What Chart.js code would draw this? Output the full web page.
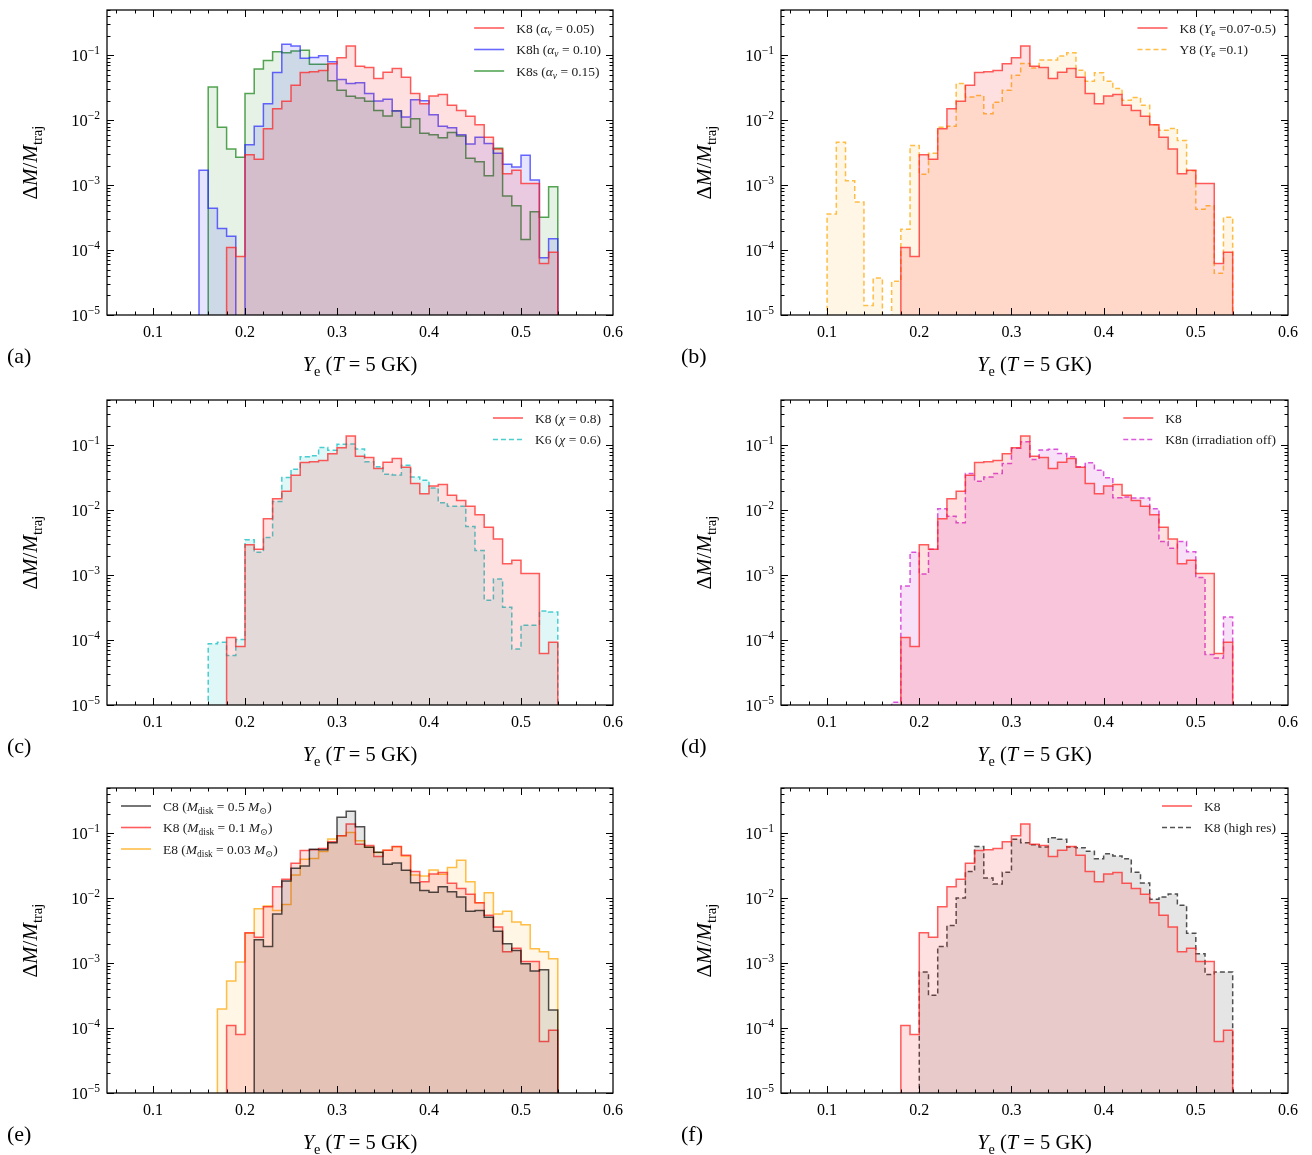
<!DOCTYPE html>
<html>
<head>
<meta charset="utf-8">
<script src="https://cdn.jsdelivr.net/npm/chart.js@4.4.1/dist/chart.umd.min.js"></script>
<style>
  html, body { margin: 0; padding: 0; background: #fff; overflow: hidden; }
  #wrap { position: relative; width: 1312px; height: 1155px; overflow: hidden; }
  #wrap canvas { position: absolute; }
</style>
</head>
<body>
<div id="wrap"></div>
<script>
// bin width of all histograms (in Ye)
const BIN = 0.01;
const FLOOR = 1e-9; // stands in for empty bins on the log axis

const xTicks = [0.1, 0.2, 0.3, 0.4, 0.5, 0.6];
const xTickLabels = ['0.1', '0.2', '0.3', '0.4', '0.5', '0.6'];
const yTicks = [1e-5, 1e-4, 1e-3, 1e-2, 1e-1];
const yTickExps = ['\u22125', '\u22124', '\u22123', '\u22122', '\u22121'];

// each series: first bin edge + dM/M per bin
const k8Start = 0.18;
const k8 = [1.1e-4, 8e-5, 2.95e-3, 2.5e-3, 7.4e-3, 0.0151, 0.0196, 0.0346, 0.0545, 0.056,
  0.0586, 0.0743, 0.092, 0.14, 0.068, 0.065, 0.044, 0.055, 0.063, 0.046,
  0.0258, 0.018, 0.0237, 0.025, 0.017, 0.0142, 0.0115, 0.0085, 0.0055, 0.0036,
  1.5e-3, 1.7e-3, 1.06e-3, 1.06e-3, 6.2e-5, 9.3e-5];

const k8hStart = 0.15;
const k8h = [1.7e-3, 4.4e-4, 2.16e-4, 1.64e-4, 0, 4.2e-3, 8.1e-3, 0.018, 0.0546, 0.148,
  0.14, 0.09, 0.093, 0.099, 0.080, 0.0425, 0.0368, 0.038, 0.0258, 0.0198,
  0.021, 0.0139, 0.0112, 0.0208, 0.020, 0.0122, 0.0081, 0.0077, 0.006, 0.0043,
  0.0055, 0.0044, 0.0031, 0.0021, 0.0019, 0.0029, 0.0012, 7.6e-5, 1.49e-4];

const k8sStart = 0.16;
const k8s = [0.0327, 7.8e-3, 3.6e-3, 2.7e-3, 0.0258, 0.0614, 0.083, 0.114, 0.11, 0.117,
  0.12, 0.073, 0.073, 0.0406, 0.029, 0.0234, 0.022, 0.0196, 0.0142, 0.0116,
  0.014, 0.0078, 0.0106, 0.0063, 0.006, 0.0054, 0.0065, 0.0057, 0.0026, 0.0023,
  0.0014, 0.0037, 6.8e-4, 4.8e-4, 1.46e-4, 3.9e-4, 3.2e-4, 9.5e-4];

const y8Start = 0.10;
const y8 = [3.6e-4, 4.6e-3, 1.17e-3, 5.5e-4, 1.4e-5, 3.7e-5, 0, 3.3e-5, 2.1e-4, 4.1e-3,
  1.48e-3, 3.1e-3, 7.8e-3, 8.1e-3, 0.0368, 0.0229, 0.024, 0.0126, 0.019, 0.029,
  0.0496, 0.075, 0.064, 0.0847, 0.085, 0.0977, 0.11, 0.059, 0.040, 0.054,
  0.040, 0.0308, 0.0203, 0.0224, 0.017, 0.0085, 0.007, 0.0075, 0.0049, 0.00167,
  4.25e-4, 4.8e-4, 4.4e-5, 3.2e-4];

const k6Start = 0.16;
const k6 = [8.8e-5, 9.3e-5, 5.8e-5, 1.02e-4, 3.5e-3, 2.25e-3, 3.8e-3, 0.0137, 0.0319, 0.043,
  0.067, 0.069, 0.093, 0.084, 0.104, 0.105, 0.088, 0.056, 0.047, 0.036,
  0.035, 0.0496, 0.0327, 0.029, 0.022, 0.0131, 0.0115, 0.0115, 0.0056, 0.0024,
  4.1e-4, 8.7e-4, 3.2e-4, 7.3e-5, 1.7e-4, 1.7e-4, 2.8e-4, 2.7e-4];

const k8nStart = 0.17;
const k8n = [1.1e-5, 6.8e-4, 2.25e-3, 1.04e-3, 2.5e-3, 0.0106, 8.1e-3, 6.4e-3, 0.0368, 0.028,
  0.0327, 0.0368, 0.0526, 0.09, 0.114, 0.0607, 0.0847, 0.087, 0.075, 0.067,
  0.047, 0.054, 0.0415, 0.0316, 0.0156, 0.016, 0.0155, 0.0155, 0.0106, 3.3e-3,
  2.6e-3, 3.3e-3, 2.3e-3, 9.2e-4, 6.0e-5, 5.3e-5, 2.26e-4];

const c8Start = 0.21;
const c8 = [2.3e-3, 1.8e-3, 5.75e-3, 0.0184, 0.029, 0.0315, 0.057, 0.056, 0.072, 0.177,
  0.219, 0.126, 0.061, 0.051, 0.0334, 0.035, 0.027, 0.0174, 0.0132, 0.0124,
  0.015, 0.0126, 0.0105, 0.0063, 0.0065, 0.0051, 0.0031, 0.002, 0.00157, 9.8e-4,
  7.6e-4, 7.9e-4, 1.9e-4];

const e8Start = 0.17;
const e8 = [1.96e-4, 5.3e-4, 1.04e-3, 2.9e-3, 6.9e-3, 7.6e-3, 6.5e-3, 8.0e-3, 0.0229, 0.040,
  0.041, 0.0526, 0.0817, 0.092, 0.1035, 0.077, 0.061, 0.0507, 0.055, 0.062,
  0.045, 0.0229, 0.022, 0.0273, 0.0234, 0.0297, 0.0386, 0.018, 0.0085, 0.0122,
  0.00575, 0.0063, 0.0043, 0.0039, 0.00167, 0.0015, 0.00117];

const k8hrStart = 0.20;
const k8hr = [7.3e-4, 3.2e-4, 1.8e-3, 3.8e-3, 0.0101, 0.0258, 0.063, 0.0206, 0.0166, 0.0251,
  0.081, 0.0718, 0.067, 0.0614, 0.0857, 0.081, 0.0614, 0.060, 0.0532, 0.0406,
  0.0484, 0.045, 0.0406, 0.0251, 0.0172, 0.0097, 0.0105, 0.0116, 0.0078, 0.0029,
  0.0014, 6.7e-4, 7.3e-4, 7.3e-4];

const FONT = '"Liberation Serif", "DejaVu Serif", serif';

// colours
const RED = { line: 'rgba(255,30,30,0.72)', fill: 'rgba(255,0,0,0.12)' };
const BLUE = { line: 'rgba(40,40,255,0.7)', fill: 'rgba(0,0,255,0.1)' };
const GREEN = { line: 'rgba(20,130,20,0.72)', fill: 'rgba(0,128,0,0.1)' };
const ORANGE = { line: 'rgba(255,165,0,0.72)', fill: 'rgba(255,165,0,0.1)' };
const CYAN = { line: 'rgba(0,185,190,0.7)', fill: 'rgba(0,190,190,0.12)' };
const MAGENTA = { line: 'rgba(200,0,200,0.65)', fill: 'rgba(200,0,200,0.12)' };
const BLACK = { line: 'rgba(0,0,0,0.68)', fill: 'rgba(0,0,0,0.1)' };
const DASH = [5, 3];

// rich-text helpers for math labels
const K8lab = [{ t: 'K8' }];
function alphaLab(name, v) {
  return [{ t: name + ' (' }, { t: '\u03b1', it: 1 }, { t: '\u03bd', it: 1, sub: 1 }, { t: ' = ' + v + ')' }];
}
function yeLab(name, v) {
  return [{ t: name + ' (' }, { t: 'Y', it: 1 }, { t: 'e', sub: 1 }, { t: ' =' + v + ')' }];
}
function chiLab(name, v) {
  return [{ t: name + ' (' }, { t: '\u03c7', it: 1 }, { t: ' = ' + v + ')' }];
}
function diskLab(name, v) {
  return [{ t: name + ' (' }, { t: 'M', it: 1 }, { t: 'disk', sub: 1 }, { t: ' = ' + v + ' ' },
    { t: 'M', it: 1 }, { t: '\u2299', sub: 1 }, { t: ')' }];
}

const panels = [
  { tag: '(a)', col: 0, row: 0, legend: 'right', series: [
    { label: 'K8', rich: alphaLab('K8', '0.05'), start: k8Start, data: k8, c: RED },
    { label: 'K8h', rich: alphaLab('K8h', '0.10'), start: k8hStart, data: k8h, c: BLUE },
    { label: 'K8s', rich: alphaLab('K8s', '0.15'), start: k8sStart, data: k8s, c: GREEN }] },
  { tag: '(b)', col: 1, row: 0, legend: 'right', series: [
    { label: 'K8', rich: yeLab('K8', '0.07-0.5'), start: k8Start, data: k8, c: RED },
    { label: 'Y8', rich: yeLab('Y8', '0.1'), start: y8Start, data: y8, c: ORANGE, dash: DASH }] },
  { tag: '(c)', col: 0, row: 1, legend: 'right', series: [
    { label: 'K8', rich: chiLab('K8', '0.8'), start: k8Start, data: k8, c: RED },
    { label: 'K6', rich: chiLab('K6', '0.6'), start: k6Start, data: k6, c: CYAN, dash: DASH }] },
  { tag: '(d)', col: 1, row: 1, legend: 'right', series: [
    { label: 'K8', rich: K8lab, start: k8Start, data: k8, c: RED },
    { label: 'K8n', rich: [{ t: 'K8n (irradiation off)' }], start: k8nStart, data: k8n, c: MAGENTA, dash: DASH }] },
  { tag: '(e)', col: 0, row: 2, legend: 'left', series: [
    { label: 'C8', rich: diskLab('C8', '0.5'), start: c8Start, data: c8, c: BLACK },
    { label: 'K8', rich: diskLab('K8', '0.1'), start: k8Start, data: k8, c: RED },
    { label: 'E8', rich: diskLab('E8', '0.03'), start: e8Start, data: e8, c: ORANGE }] },
  { tag: '(f)', col: 1, row: 2, legend: 'right', series: [
    { label: 'K8', rich: K8lab, start: k8Start, data: k8, c: RED },
    { label: 'K8 (high res)', rich: [{ t: 'K8 (high res)' }], start: k8hrStart, data: k8hr, c: BLACK, dash: DASH }] }
];

// histogram -> stepped points at bin edges
function hist(start, values) {
  const pts = [{ x: start, y: FLOOR }];
  values.forEach((v, i) => pts.push({ x: +(start + i * BIN).toFixed(4), y: v > 0 ? v : FLOOR }));
  pts.push({ x: +(start + values.length * BIN).toFixed(4), y: FLOOR });
  return pts;
}

function segFont(s, size) {
  const fs = (s.sub || s.sup) ? size * 0.7 : size;
  return (s.it ? 'italic ' : '') + fs.toFixed(1) + 'px ' + FONT;
}
function richWidth(ctx, segs, size) {
  let w = 0;
  segs.forEach(s => { ctx.font = segFont(s, size); w += ctx.measureText(s.t).width; });
  return w;
}
function drawRich(ctx, segs, x, y, size, align) {
  const w = richWidth(ctx, segs, size);
  let cx = align === 'center' ? x - w / 2 : align === 'right' ? x - w : x;
  ctx.textAlign = 'left';
  ctx.textBaseline = 'alphabetic';
  segs.forEach(s => {
    ctx.font = segFont(s, size);
    const dy = s.sub ? size * 0.25 : s.sup ? -size * 0.42 : 0;
    ctx.fillText(s.t, cx, y + dy);
    cx += ctx.measureText(s.t).width;
  });
  return w;
}

function makeDeco(p) {
  return {
    id: 'deco',
    afterDatasetsDraw(chart) {
      const { ctx, chartArea: a, scales: { x, y } } = chart;
      ctx.save();
      ctx.fillStyle = '#000';
      ctx.strokeStyle = '#000';

      // frame
      ctx.lineWidth = 1.25;
      ctx.strokeRect(a.left, a.top, a.right - a.left, a.bottom - a.top);

      // inward ticks, all four sides
      ctx.lineWidth = 1;
      ctx.beginPath();
      for (let v = 0.06; v < 0.6; v += 0.02) {
        const major = Math.abs(v * 10 - Math.round(v * 10)) < 1e-6;
        const len = major ? 7 : 3.5;
        const px = Math.round(x.getPixelForValue(v)) + 0.5;
        ctx.moveTo(px, a.bottom); ctx.lineTo(px, a.bottom - len);
        ctx.moveTo(px, a.top); ctx.lineTo(px, a.top + len);
      }
      for (let e = -5; e <= -1; e++) {
        for (let k = 1; k <= 9; k++) {
          const v = k * Math.pow(10, e);
          if (v > y.max || v < y.min) continue;
          const len = k === 1 ? 7 : 3.5;
          const py = Math.round(y.getPixelForValue(v)) + 0.5;
          ctx.moveTo(a.left, py); ctx.lineTo(a.left + len, py);
          ctx.moveTo(a.right, py); ctx.lineTo(a.right - len, py);
        }
      }
      ctx.stroke();

      // x tick labels
      ctx.font = '16px ' + FONT;
      ctx.textAlign = 'center';
      ctx.textBaseline = 'top';
      xTicks.forEach((v, i) => ctx.fillText(xTickLabels[i], x.getPixelForValue(v), a.bottom + 10));

      // y tick labels 10^n
      yTicks.forEach((v, i) => {
        const py = y.getPixelForValue(v);
        drawRich(ctx, [{ t: '10' }, { t: yTickExps[i], sup: 1 }], a.left - 7, py + 6, 16.5, 'right');
      });

      // axis titles
      const cx = (a.left + a.right) / 2;
      drawRich(ctx, [{ t: 'Y', it: 1 }, { t: 'e', sub: 1 }, { t: ' (' }, { t: 'T', it: 1 }, { t: ' = 5 GK)' }],
        cx, a.bottom + 56, 20.5, 'center');
      ctx.save();
      ctx.translate(a.left - 70, (a.top + a.bottom) / 2);
      ctx.rotate(-Math.PI / 2);
      drawRich(ctx, [{ t: '\u0394' }, { t: 'M', it: 1 }, { t: '/' }, { t: 'M', it: 1 }, { t: 'traj', sub: 1 }],
        0, 0, 21, 'center');
      ctx.restore();

      // panel tag
      ctx.font = '22px ' + FONT;
      ctx.textAlign = 'left';
      ctx.textBaseline = 'alphabetic';
      ctx.fillText(p.tag, a.left - 100, a.bottom + 48);

      // legend
      const fs = 13.5;
      let maxW = 0;
      p.series.forEach(s => { maxW = Math.max(maxW, richWidth(ctx, s.rich, fs)); });
      const x0 = p.legend === 'left' ? a.left + 14 : a.right - 12 - maxW - 42;
      p.series.forEach((s, i) => {
        const ly = a.top + 18 + i * 21.5;
        ctx.save();
        ctx.strokeStyle = s.c.line;
        ctx.lineWidth = 1.6;
        ctx.setLineDash(s.dash || []);
        ctx.beginPath();
        ctx.moveTo(x0, ly); ctx.lineTo(x0 + 30, ly);
        ctx.stroke();
        ctx.restore();
        ctx.fillStyle = '#222';
        drawRich(ctx, s.rich, x0 + 42, ly + 4.5, fs, 'left');
      });
      ctx.restore();
    }
  };
}

const rowTops = [0, 390, 778];
const wrap = document.getElementById('wrap');
panels.forEach(p => {
  const cv = document.createElement('canvas');
  cv.width = 656;
  cv.height = 380;
  cv.style.left = (p.col * 656) + 'px';
  cv.style.top = rowTops[p.row] + 'px';
  wrap.appendChild(cv);

  const pad = p.col === 0
    ? { left: 107, right: 43, top: 10, bottom: 65 }
    : { left: 125, right: 24, top: 10, bottom: 65 };

  new Chart(cv, {
    type: 'line',
    data: {
      datasets: p.series.map(s => ({
        label: s.label,
        data: hist(s.start, s.data),
        borderColor: s.c.line,
        backgroundColor: s.c.fill,
        borderWidth: 1.5,
        borderDash: s.dash || [],
        fill: 'start',
        stepped: true,
        pointRadius: 0,
        tension: 0
      }))
    },
    options: {
      responsive: false,
      animation: false,
      devicePixelRatio: 1,
      events: [],
      layout: { padding: pad },
      scales: {
        x: { type: 'linear', min: 0.05, max: 0.6, display: false },
        y: { type: 'logarithmic', min: 1e-5, max: 0.5, display: false }
      },
      plugins: { legend: { display: false }, tooltip: { enabled: false } }
    },
    plugins: [makeDeco(p)]
  });
});
</script>
</body>
</html>
